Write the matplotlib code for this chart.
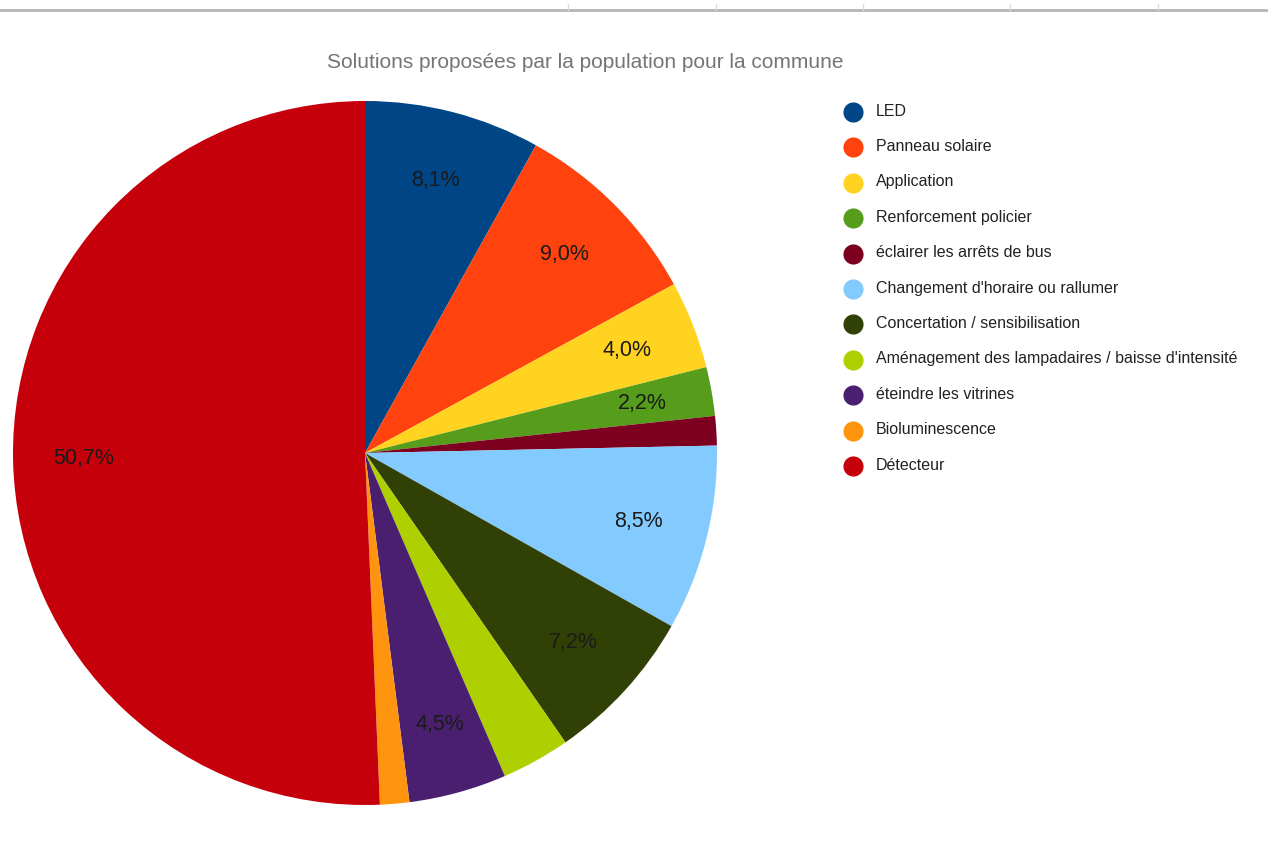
import matplotlib
matplotlib.use('Agg')
import matplotlib.pyplot as plt
from matplotlib.lines import Line2D
import numpy as np

plt.rcParams['font.family'] = ['Liberation Sans', 'DejaVu Sans']

# nombre de réponses par solution
solutions = ['LED', 'Panneau solaire', 'Application', 'Renforcement policier',
             'éclairer les arrêts de bus', "Changement d'horaire ou rallumer",
             'Concertation / sensibilisation',
             "Aménagement des lampadaires / baisse d'intensité",
             'éteindre les vitrines', 'Bioluminescence', 'Détecteur']
reponses = [18, 20, 9, 5, 3, 19, 16, 7, 10, 3, 113]
afficher_pct = [True, True, True, True, False, True, True, False, True, False, True]
couleurs = ['#004586', '#ff420e', '#ffd320', '#579d1c', '#7e0021', '#83caff',
            '#314004', '#aecf00', '#4b1f6f', '#ff950e', '#c5000b']

W, H = 1268, 841
fig = plt.figure(figsize=(W / 100, H / 100), dpi=100)

# --- camembert ---
cx, cy, r = 365, 453, 352
ax = fig.add_axes([(cx - r) / W, (H - cy - r) / H, 2 * r / W, 2 * r / H])
total = sum(reponses)
wedges, _ = ax.pie(reponses, colors=couleurs, startangle=90, counterclock=False,
                   radius=1, wedgeprops=dict(linewidth=0))
for w, n, show in zip(wedges, reponses, afficher_pct):
    if not show:
        continue
    ang = np.deg2rad((w.theta1 + w.theta2) / 2)
    txt = f'{100 * n / total:.1f}%'.replace('.', ',')
    ax.text(0.8 * np.cos(ang), 0.8 * np.sin(ang), txt, ha='center', va='center',
            fontsize=15.5, color='#1a1a1a')
ax.set_xlim(-1, 1)
ax.set_ylim(-1, 1)
ax.axis('off')

# --- titre ---
fig.text(585 / W, 1 - 62 / H, 'Solutions proposées par la population pour la commune',
         ha='center', va='center', fontsize=15, color='#757575')

# --- légende ---
for i, (nom, c) in enumerate(zip(solutions, couleurs)):
    y = 112 + i * 35.4
    fig.add_artist(Line2D([853 / W], [1 - y / H], marker='o', markersize=14.5,
                          color=c, markeredgewidth=0, transform=fig.transFigure))
    fig.text(876 / W, 1 - (y + 3.5) / H, nom, ha='left', va='baseline',
             fontsize=11.5, color='#222222')

# --- bandeau gris en haut ---
fig.add_artist(Line2D([0, 1], [1 - 10 / H] * 2, color='#b5b5b5', linewidth=2,
                      transform=fig.transFigure))
for x in [568, 716, 863, 1010, 1158]:
    fig.add_artist(Line2D([x / W] * 2, [1 - 4 / H, 1 - 10 / H], color='#dddddd',
                          linewidth=1, transform=fig.transFigure))

fig.savefig('out.png', dpi=100, facecolor='white')
